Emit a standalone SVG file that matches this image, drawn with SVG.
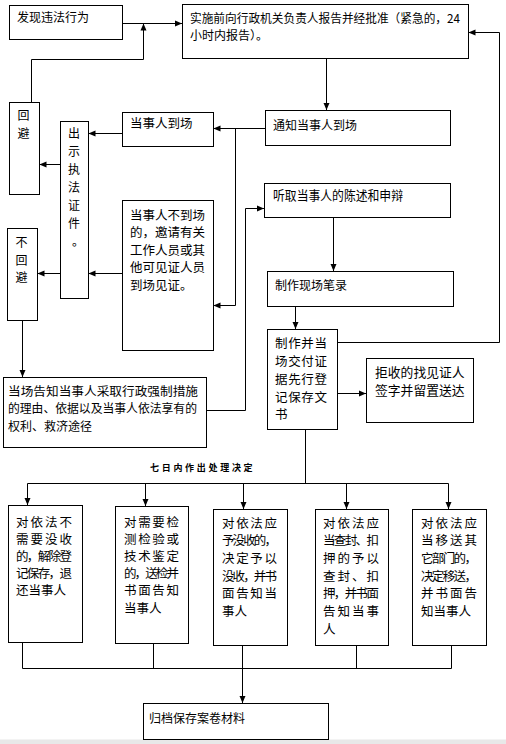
<svg xmlns="http://www.w3.org/2000/svg" width="506" height="744" viewBox="0 0 506 744">
<style>
.b{fill:#fff;stroke:#000;stroke-width:1}
.t{font-family:"Noto Sans CJK SC","Noto Sans CJK JP",sans-serif;font-size:12.5px;fill:#000}
.c{fill:none;stroke:#000;stroke-width:1}
.v{text-anchor:middle;font-size:12px}
</style>
<defs>
<marker id="a" markerWidth="7" markerHeight="7" refX="7" refY="3.5" orient="auto" markerUnits="userSpaceOnUse">
<path d="M0,0.5 L7,3.5 L0,6.5 z" fill="#000"/>
</marker>
</defs>
<rect x="0" y="739.5" width="506" height="5" fill="#e8e8e8"/>
<g id="connectors">
<path class="c" d="M122.5,23.5 H182" marker-end="url(#a)"/>
<path class="c" d="M31.5,102 V59.5 H143.5 V23.5" marker-end="url(#a)"/>
<path class="c" d="M326.5,58.5 V110" marker-end="url(#a)"/>
<path class="c" d="M265,128.5 H213.5" marker-end="url(#a)"/>
<path class="c" d="M235.5,128.5 V305.5 H213.5" marker-end="url(#a)"/>
<path class="c" d="M122,133.5 H88.5" marker-end="url(#a)"/>
<path class="c" d="M60,164.5 H39.5" marker-end="url(#a)"/>
<path class="c" d="M60,273.5 H37.5" marker-end="url(#a)"/>
<path class="c" d="M122,273.5 H88.5" marker-end="url(#a)"/>
<path class="c" d="M22.5,320.5 V377" marker-end="url(#a)"/>
<path class="c" d="M206.5,410.5 H245.5 V208.5 H264" marker-end="url(#a)"/>
<path class="c" d="M333.5,217.5 V271" marker-end="url(#a)"/>
<path class="c" d="M295.5,306.5 V329" marker-end="url(#a)"/>
<path class="c" d="M337.5,393.5 H366" marker-end="url(#a)"/>
<path class="c" d="M337.5,342.5 H499.5 V32.5 H468.5" marker-end="url(#a)"/>
<path class="c" d="M305.5,429.5 V483.5 M27.5,483.5 H448.5"/>
<path class="c" d="M27.5,483.5 V505" marker-end="url(#a)"/>
<path class="c" d="M145.5,483.5 V506" marker-end="url(#a)"/>
<path class="c" d="M243.5,483.5 V509" marker-end="url(#a)"/>
<path class="c" d="M346.5,483.5 V509" marker-end="url(#a)"/>
<path class="c" d="M448.5,483.5 V509" marker-end="url(#a)"/>
<path class="c" d="M22.5,642.5 V668.5 M153.5,643.5 V668.5 M356.5,645.5 V668.5 M451.5,645.5 V668.5 M22.5,668.5 H451.5"/>
<path class="c" d="M242.5,645.5 V703" marker-end="url(#a)"/>
</g>
<text class="t" x="150" y="471" style="font-size:9px;letter-spacing:2.7px;font-weight:bold">七日内作出处理决定</text>
<g id="n1"><rect class="b" x="9.5" y="5.5" width="113" height="34"/><text class="t" x="17" y="22" style="font-size:12px">发现违法行为</text></g>
<g id="n2"><rect class="b" x="182.5" y="4.5" width="286" height="54"/><text class="t" x="190" y="23" style="font-size:12px" textLength="270" lengthAdjust="spacingAndGlyphs">实施前向行政机关负责人报告并经批准（紧急的，24</text><text class="t" x="190" y="40" style="font-size:12px">小时内报告）。</text></g>
<g id="n3"><rect class="b" x="265.5" y="110.5" width="185" height="35"/><text class="t" x="273" y="130" style="font-size:12px">通知当事人到场</text></g>
<g id="n4"><rect class="b" x="122.5" y="112.5" width="91" height="34"/><text class="t" x="130" y="128">当事人到场</text></g>
<g id="n5"><rect class="b" x="60.5" y="121.5" width="28" height="177"/>
<text class="t v" x="74" y="137.5">出</text><text class="t v" x="74" y="155.5">示</text><text class="t v" x="74" y="173.5">执</text><text class="t v" x="74" y="191.5">法</text><text class="t v" x="74" y="209.5">证</text><text class="t v" x="74" y="227.5">件</text><text class="t v" x="78" y="245.5">。</text></g>
<g id="n6"><rect class="b" x="9.5" y="102.5" width="30" height="92"/><text class="t v" x="23.5" y="119.5">回</text><text class="t v" x="23.5" y="137.5">避</text></g>
<g id="n7"><rect class="b" x="7.5" y="228.5" width="30" height="92"/><text class="t v" x="21.5" y="247">不</text><text class="t v" x="21.5" y="264.5">回</text><text class="t v" x="21.5" y="282">避</text></g>
<g id="n8"><rect class="b" x="122.5" y="200.5" width="91" height="150"/>
<text class="t" x="130" y="219.5">当事人不到场</text><text class="t" x="130" y="237">的，邀请有关</text><text class="t" x="130" y="254.5">工作人员或其</text><text class="t" x="130" y="272">他可见证人员</text><text class="t" x="130" y="289.5">到场见证。</text></g>
<g id="n9"><rect class="b" x="264.5" y="183.5" width="186" height="34"/><text class="t" x="273" y="199.5" style="font-size:13px" textLength="130" lengthAdjust="spacingAndGlyphs">听取当事人的陈述和申辩</text></g>
<g id="n10"><rect class="b" x="267.5" y="271.5" width="186" height="35"/><text class="t" x="275" y="289.5" style="font-size:12px">制作现场笔录</text></g>
<g id="n11"><rect class="b" x="267.5" y="329.5" width="70" height="100"/>
<text class="t" x="275" y="347.5" textLength="52" lengthAdjust="spacing">制作并当</text><text class="t" x="275" y="365.5" textLength="52" lengthAdjust="spacing">场交付证</text><text class="t" x="275" y="383.5" textLength="52" lengthAdjust="spacing">据先行登</text><text class="t" x="275" y="401.5" textLength="52" lengthAdjust="spacing">记保存文</text><text class="t" x="275" y="419">书</text></g>
<g id="n12"><rect class="b" x="366.5" y="358.5" width="107" height="64"/><text class="t" x="375" y="376.5" style="font-size:12.8px">拒收的找见证人</text><text class="t" x="375" y="394.5" style="font-size:12.8px">签字并留置送达</text></g>
<g id="n13"><rect class="b" x="3.5" y="377.5" width="203" height="70"/>
<text class="t" x="8" y="395.5" style="font-size:12px" textLength="190" lengthAdjust="spacingAndGlyphs">当场告知当事人采取行政强制措施</text><text class="t" x="8" y="413" style="font-size:12px" textLength="189" lengthAdjust="spacingAndGlyphs">的理由、依据以及当事人依法享有的</text><text class="t" x="8" y="430.5" style="font-size:12px">权利、救济途径</text></g>
<g id="n14"><rect class="b" x="8.5" y="505.5" width="74" height="137"/>
<text class="t" x="16" y="526.5" textLength="56" lengthAdjust="spacing">对依法不</text><text class="t" x="16" y="543.7" textLength="56" lengthAdjust="spacing">需要没收</text><text class="t" x="16" y="560.9" textLength="56" lengthAdjust="spacing">的，解除登</text><text class="t" x="16" y="578.1" textLength="56" lengthAdjust="spacing">记保存，退</text><text class="t" x="16" y="595.3">还当事人</text></g>
<g id="n15"><rect class="b" x="115.5" y="506.5" width="73" height="137"/>
<text class="t" x="124" y="526.5" textLength="55" lengthAdjust="spacing">对需要检</text><text class="t" x="124" y="543.7" textLength="55" lengthAdjust="spacing">测检验或</text><text class="t" x="124" y="560.9" textLength="55" lengthAdjust="spacing">技术鉴定</text><text class="t" x="124" y="578.1" textLength="55" lengthAdjust="spacing">的，送检并</text><text class="t" x="124" y="595.3" textLength="55" lengthAdjust="spacing">书面告知</text><text class="t" x="124" y="612.5">当事人</text></g>
<g id="n16"><rect class="b" x="213.5" y="509.5" width="74" height="136"/>
<text class="t" x="222" y="527.5" textLength="55" lengthAdjust="spacing">对依法应</text><text class="t" x="222" y="545.2" textLength="55" lengthAdjust="spacing">予没收的，</text><text class="t" x="222" y="562.9" textLength="55" lengthAdjust="spacing">决定予以</text><text class="t" x="222" y="580.6" textLength="55" lengthAdjust="spacing">没收，并书</text><text class="t" x="222" y="598.3" textLength="55" lengthAdjust="spacing">面告知当</text><text class="t" x="222" y="616">事人</text></g>
<g id="n17"><rect class="b" x="315.5" y="509.5" width="73" height="136"/>
<text class="t" x="323" y="527.5" textLength="56" lengthAdjust="spacing">对依法应</text><text class="t" x="323" y="545.2" textLength="56" lengthAdjust="spacing">当查封、扣</text><text class="t" x="323" y="562.9" textLength="56" lengthAdjust="spacing">押的予以</text><text class="t" x="323" y="580.6" textLength="56" lengthAdjust="spacing">查封、扣</text><text class="t" x="323" y="598.3" textLength="56" lengthAdjust="spacing">押，并书面</text><text class="t" x="323" y="616" textLength="56" lengthAdjust="spacing">告知当事</text><text class="t" x="323" y="633.7">人</text></g>
<g id="n18"><rect class="b" x="412.5" y="509.5" width="74" height="136"/>
<text class="t" x="421" y="527.5" textLength="56" lengthAdjust="spacing">对依法应</text><text class="t" x="421" y="545.2" textLength="56" lengthAdjust="spacing">当移送其</text><text class="t" x="421" y="562.9" textLength="56" lengthAdjust="spacing">它部门的，</text><text class="t" x="421" y="580.6" textLength="56" lengthAdjust="spacing">决定移送，</text><text class="t" x="421" y="598.3" textLength="56" lengthAdjust="spacing">并书面告</text><text class="t" x="421" y="616">知当事人</text></g>
<g id="n19"><rect class="b" x="143.5" y="703.5" width="185" height="36"/><text class="t" x="149" y="722.5" style="font-size:12px">归档保存案卷材料</text></g>
</svg>
